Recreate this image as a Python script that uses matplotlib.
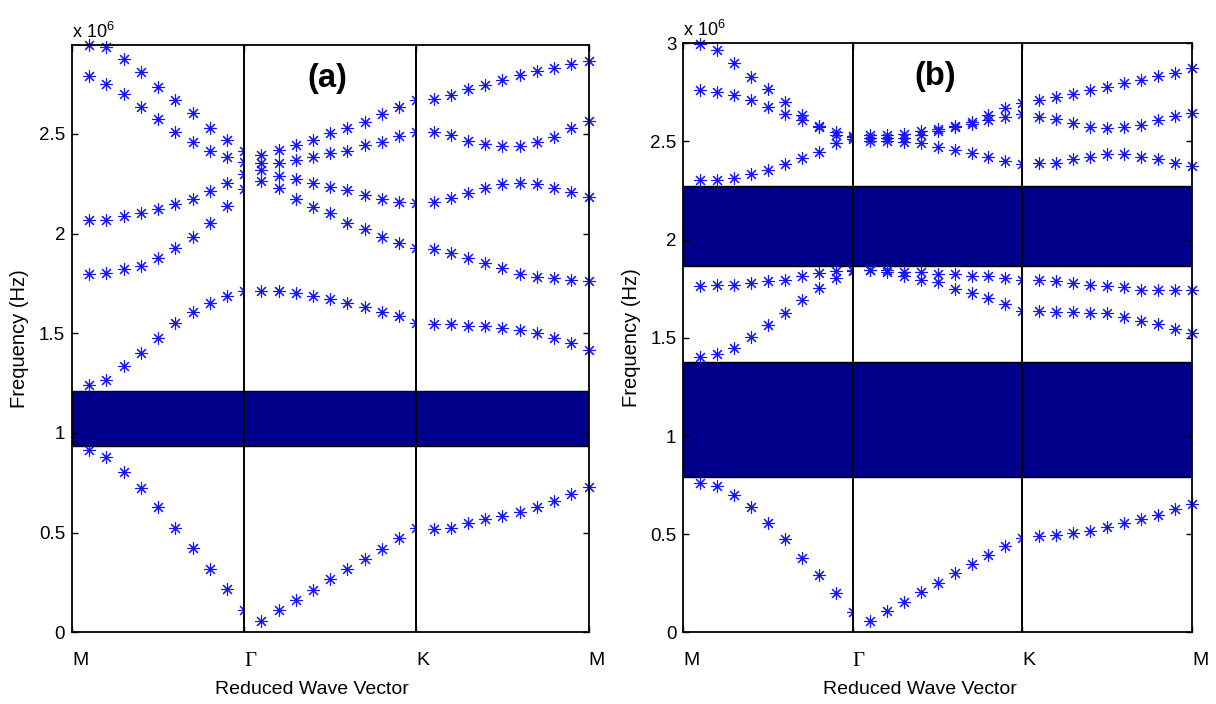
"""Phononic band structures (a) and (b): M-Gamma-K-M path, band gaps shaded."""

import numpy as np
import matplotlib
matplotlib.use("Agg")
import matplotlib.pyplot as plt
from matplotlib.patches import Rectangle

plt.rcParams["font.family"] = ["Liberation Sans", "DejaVu Sans"]
plt.rcParams["mathtext.fontset"] = "custom"
plt.rcParams["mathtext.rm"] = "Liberation Sans"
plt.rcParams["mathtext.it"] = "Liberation Sans:italic"

# path labels, 10 k-points per segment (values in units of 1e6 Hz)
K_LABELS = ["M", "\u0393", "K", "M"]
PTS_PER_SEG = 10

# ---- panel (a) ----
a_band1 = [0.915, 0.878, 0.806, 0.723, 0.628, 0.522, 0.422, 0.317, 0.217, 0.113,
           0.059, 0.113, 0.163, 0.213, 0.267, 0.317, 0.367, 0.419, 0.472, 0.522,
           0.517, 0.522, 0.547, 0.567, 0.584, 0.606, 0.631, 0.661, 0.694, 0.728]
a_band2 = [1.241, 1.266, 1.336, 1.400, 1.478, 1.550, 1.608, 1.650, 1.687, 1.712,
           1.713, 1.713, 1.703, 1.687, 1.670, 1.650, 1.633, 1.608, 1.586, 1.550,
           1.546, 1.546, 1.536, 1.536, 1.525, 1.516, 1.503, 1.475, 1.450, 1.416]
a_band3 = [1.797, 1.804, 1.821, 1.837, 1.876, 1.926, 1.984, 2.051, 2.138, 2.224,
           2.263, 2.227, 2.172, 2.131, 2.101, 2.054, 2.021, 1.984, 1.954, 1.926,
           1.921, 1.901, 1.876, 1.851, 1.826, 1.797, 1.784, 1.775, 1.767, 1.762]
a_band4 = [2.068, 2.068, 2.088, 2.101, 2.121, 2.148, 2.171, 2.215, 2.255, 2.300,
           2.318, 2.290, 2.275, 2.255, 2.235, 2.218, 2.193, 2.171, 2.159, 2.151,
           2.159, 2.176, 2.205, 2.230, 2.248, 2.255, 2.248, 2.230, 2.207, 2.185]
a_band5 = [2.789, 2.749, 2.699, 2.633, 2.572, 2.510, 2.460, 2.415, 2.385, 2.358,
           2.352, 2.355, 2.367, 2.385, 2.402, 2.415, 2.444, 2.460, 2.489, 2.510,
           2.510, 2.494, 2.465, 2.449, 2.440, 2.440, 2.460, 2.485, 2.530, 2.565]
a_band6 = [2.945, 2.937, 2.873, 2.811, 2.736, 2.669, 2.602, 2.530, 2.469, 2.416,
           2.393, 2.419, 2.444, 2.469, 2.502, 2.527, 2.561, 2.599, 2.633, 2.669,
           2.674, 2.694, 2.723, 2.744, 2.769, 2.794, 2.814, 2.831, 2.848, 2.865]
a_gaps = [(0.937, 1.212)]

# ---- panel (b) ----
b_band1 = [0.759, 0.746, 0.700, 0.640, 0.559, 0.474, 0.381, 0.293, 0.203, 0.106,
           0.059, 0.110, 0.157, 0.207, 0.251, 0.302, 0.348, 0.393, 0.441, 0.483,
           0.489, 0.495, 0.505, 0.517, 0.539, 0.556, 0.576, 0.597, 0.627, 0.653]
b_band2 = [1.404, 1.417, 1.451, 1.505, 1.568, 1.627, 1.695, 1.754, 1.805, 1.839,
           1.844, 1.834, 1.813, 1.797, 1.783, 1.749, 1.729, 1.703, 1.670, 1.636,
           1.636, 1.630, 1.630, 1.627, 1.627, 1.607, 1.585, 1.573, 1.546, 1.526]
b_band3 = [1.766, 1.771, 1.771, 1.780, 1.788, 1.797, 1.817, 1.831, 1.839, 1.844,
           1.844, 1.844, 1.834, 1.834, 1.827, 1.827, 1.817, 1.817, 1.805, 1.797,
           1.797, 1.788, 1.780, 1.771, 1.763, 1.760, 1.746, 1.746, 1.746, 1.742]
b_band4 = [2.305, 2.305, 2.314, 2.334, 2.356, 2.386, 2.415, 2.449, 2.492, 2.512,
           2.500, 2.500, 2.495, 2.492, 2.474, 2.458, 2.441, 2.420, 2.403, 2.386,
           2.390, 2.390, 2.410, 2.423, 2.437, 2.437, 2.423, 2.410, 2.393, 2.373]
b_band5 = [2.763, 2.754, 2.737, 2.712, 2.675, 2.639, 2.607, 2.580, 2.534, 2.525,
           2.517, 2.517, 2.517, 2.534, 2.555, 2.575, 2.590, 2.607, 2.627, 2.641,
           2.627, 2.614, 2.593, 2.576, 2.568, 2.576, 2.585, 2.607, 2.630, 2.644]
b_band6 = [2.995, 2.966, 2.901, 2.830, 2.766, 2.703, 2.635, 2.576, 2.550, 2.530,
           2.534, 2.534, 2.540, 2.551, 2.563, 2.580, 2.601, 2.636, 2.670, 2.695,
           2.712, 2.725, 2.742, 2.763, 2.776, 2.800, 2.813, 2.834, 2.851, 2.873]
b_gaps = [(0.792, 1.375), (1.868, 2.271)]

MARKER_COLOR = "#1414FF"
GAP_COLOR = "#00008B"


def band_panel(ax, bands, gaps, ymax, yticks, tag):
    n_seg = len(K_LABELS) - 1
    ax.set_xlim(0, n_seg)
    ax.set_ylim(0, ymax)

    for lo, hi in gaps:
        ax.axhspan(lo, hi, facecolor=GAP_COLOR, edgecolor="black", linewidth=1.0, zorder=1)

    # each segment is clipped at its right end, like separate sub-axes
    for seg in range(n_seg):
        sl = slice(seg * PTS_PER_SEG, (seg + 1) * PTS_PER_SEG)
        x = seg + np.arange(1, PTS_PER_SEG + 1) / PTS_PER_SEG
        for band in bands:
            line, = ax.plot(x, np.asarray(band)[sl], linestyle="none", marker=(8, 2, 0),
                            markersize=9, markeredgewidth=0.8, color=MARKER_COLOR, zorder=2)
            if seg < n_seg - 1:
                clip = Rectangle((seg - 1, -50), 2, 100, transform=ax.transData)
                line.set_clip_path(clip)
            else:
                line.set_clip_on(False)

    for xv in range(1, n_seg):
        ax.axvline(xv, color="black", linewidth=1.4, zorder=3)

    ax.set_xticks(range(n_seg + 1))
    ax.set_xticklabels(K_LABELS, ha="left", fontsize=14)
    ax.get_xticklabels()[1].set_fontfamily(["Liberation Serif"])
    ax.get_xticklabels()[1].set_fontsize(15)

    ax.set_yticks(yticks)
    ax.set_yticklabels([f"{v:g}" for v in yticks], fontsize=13.5)

    ax.tick_params(axis="x", direction="in", top=True, length=4, width=1, pad=14)
    ax.tick_params(axis="y", direction="in", right=True, length=4, width=1, pad=5)
    for sp in ax.spines.values():
        sp.set_linewidth(1.3)

    ax.set_xlabel("Reduced Wave Vector", fontsize=14)
    ax.xaxis.set_label_coords(0.465, -0.083)
    ax.set_ylabel("Frequency (Hz)", fontsize=14.5)
    ax.yaxis.set_label_coords(-0.083, 0.5)

    ax.text(0.0, 1.005, r"x 10$^{6}$", transform=ax.transAxes, ha="left", va="bottom", fontsize=13)
    ax.text(0.495, 0.943, tag, transform=ax.transAxes, ha="center", va="center",
            fontsize=23.5, fontweight="bold")


fig = plt.figure(figsize=(12.16, 7.04), dpi=100)
ax_a = fig.add_axes([0.0592, 0.1016, 0.4248, 0.8345])
ax_b = fig.add_axes([0.5619, 0.1016, 0.4183, 0.8369])

band_panel(ax_a, [a_band1, a_band2, a_band3, a_band4, a_band5, a_band6], a_gaps,
           2.945, [0, 0.5, 1, 1.5, 2, 2.5], "(a)")
band_panel(ax_b, [b_band1, b_band2, b_band3, b_band4, b_band5, b_band6], b_gaps,
           3.0, [0, 0.5, 1, 1.5, 2, 2.5, 3], "(b)")

fig.savefig("out.png", dpi=100)
